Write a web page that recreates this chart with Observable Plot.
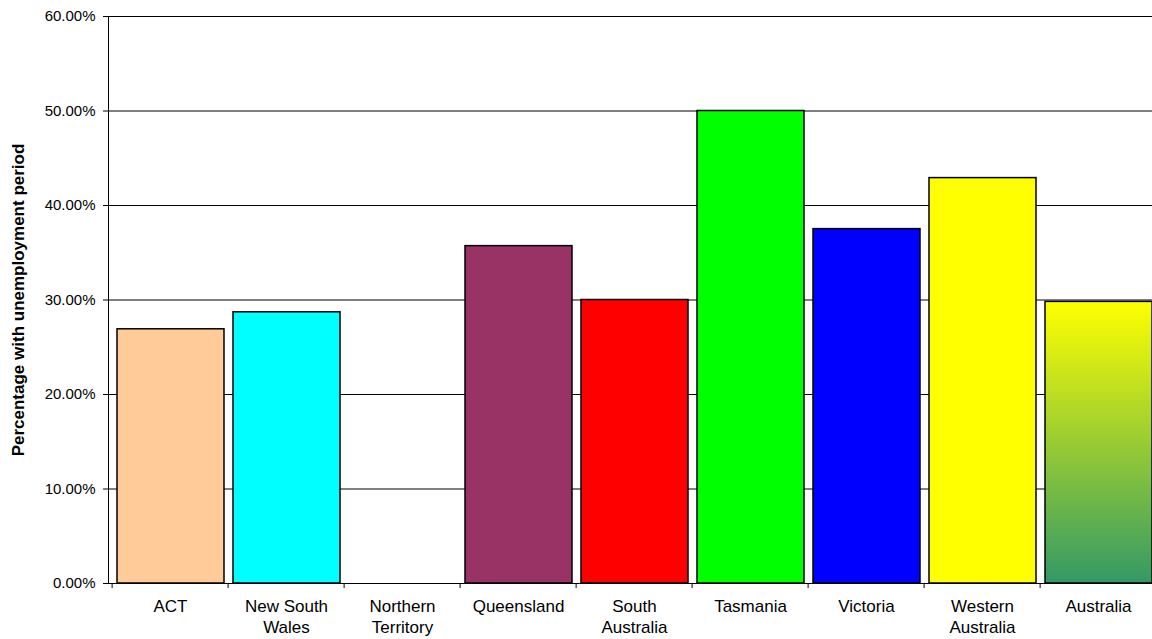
<!DOCTYPE html>
<html>
<head>
<meta charset="utf-8">
<script src="https://cdn.jsdelivr.net/npm/d3@7"></script>
<script src="https://cdn.jsdelivr.net/npm/@observablehq/plot@0.6"></script>
<style>
  html, body { margin: 0; padding: 0; background: #fff; overflow: hidden; }
  #chart { width: 1152px; height: 639px; overflow: hidden; }
  #chart svg { max-width: none !important; }
</style>
</head>
<body>
<div id="chart"></div>
<script>
const states = ["ACT", "New South Wales", "Northern Territory", "Queensland", "South Australia", "Tasmania", "Victoria", "Western Australia", "Australia"];
const tickLabels = ["ACT", "New South\nWales", "Northern\nTerritory", "Queensland", "South\nAustralia", "Tasmania", "Victoria", "Western\nAustralia", "Australia"];
const values = [26.9, 28.7, 0, 35.7, 30.0, 50.0, 37.5, 42.9, 29.8];
const colors = ["#FFCC99", "#00FFFF", "#FFFFFF", "#993366", "#FF0000", "#00FF00", "#0000FF", "#FFFF00", "url(#ausGrad)"];
const yTicks = [0, 10, 20, 30, 40, 50, 60];
const yTitle = "Percentage with unemployment period";

const data = states.map((s, i) => ({state: s, value: values[i], color: colors[i], label: tickLabels[i]}));
const labelOf = new Map(data.map(d => [d.state, d.label]));
const stateBars = data.filter(d => d.value > 0 && d.state !== "Australia");
const ausBars = data.filter(d => d.state === "Australia");

const W = 1159, H = 639, ML = 108, MR = 0, MT = 16, MB = 56;
const step = (W - ML - MR) / states.length;
const font = "'Liberation Sans', Arial, Helvetica, sans-serif";

const plot = Plot.plot({
  width: W,
  height: H,
  marginLeft: ML,
  marginRight: MR,
  marginTop: MT,
  marginBottom: MB,
  style: {fontFamily: font, fontSize: "15px", color: "#000", background: "#fff", maxWidth: "none"},
  x: {domain: states, padding: 0},
  y: {domain: [0, 60]},
  marks: [
    Plot.gridY(yTicks.slice(1, -1), {stroke: "#000", strokeOpacity: 1, strokeWidth: 1}),
    Plot.barY(stateBars, {x: "state", y: "value", fill: d => d.color, stroke: "#000", strokeWidth: 1.5, insetLeft: 5, insetRight: 4}),
    Plot.barY(ausBars, {x: "state", y: "value", fill: "url(#ausGrad)", stroke: "#000", strokeWidth: 1.5, insetLeft: 5, insetRight: 4}),
    Plot.frame({stroke: "#000", strokeWidth: 1}),
    Plot.axisY({ticks: yTicks, tickSize: 5, tickPadding: 8, tickFormat: d => d.toFixed(2) + "%", label: null, fontSize: 15}),
    Plot.axisX({tickSize: 5, tickFormat: () => "", dx: -step / 2, label: null}),
    Plot.axisX({tickSize: 0, tickPadding: 14, tickFormat: d => labelOf.get(d), label: null, fontSize: 17, lineHeight: 1.22}),
    Plot.text([yTitle], {text: d => d, frameAnchor: "left", textAnchor: "middle", lineAnchor: "middle", dx: -90, rotate: -90, fontWeight: "bold", fontSize: 17})
  ]
});

const svgNS = "http://www.w3.org/2000/svg";
const defs = document.createElementNS(svgNS, "defs");
defs.innerHTML = '<linearGradient id="ausGrad" x1="0" y1="0" x2="0" y2="1">' +
  '<stop offset="0" stop-color="#FFFF00"/>' +
  '<stop offset="1" stop-color="#339966"/></linearGradient>';
plot.insertBefore(defs, plot.firstChild);
plot.style.maxWidth = "none";
document.getElementById("chart").appendChild(plot);
</script>
</body>
</html>
